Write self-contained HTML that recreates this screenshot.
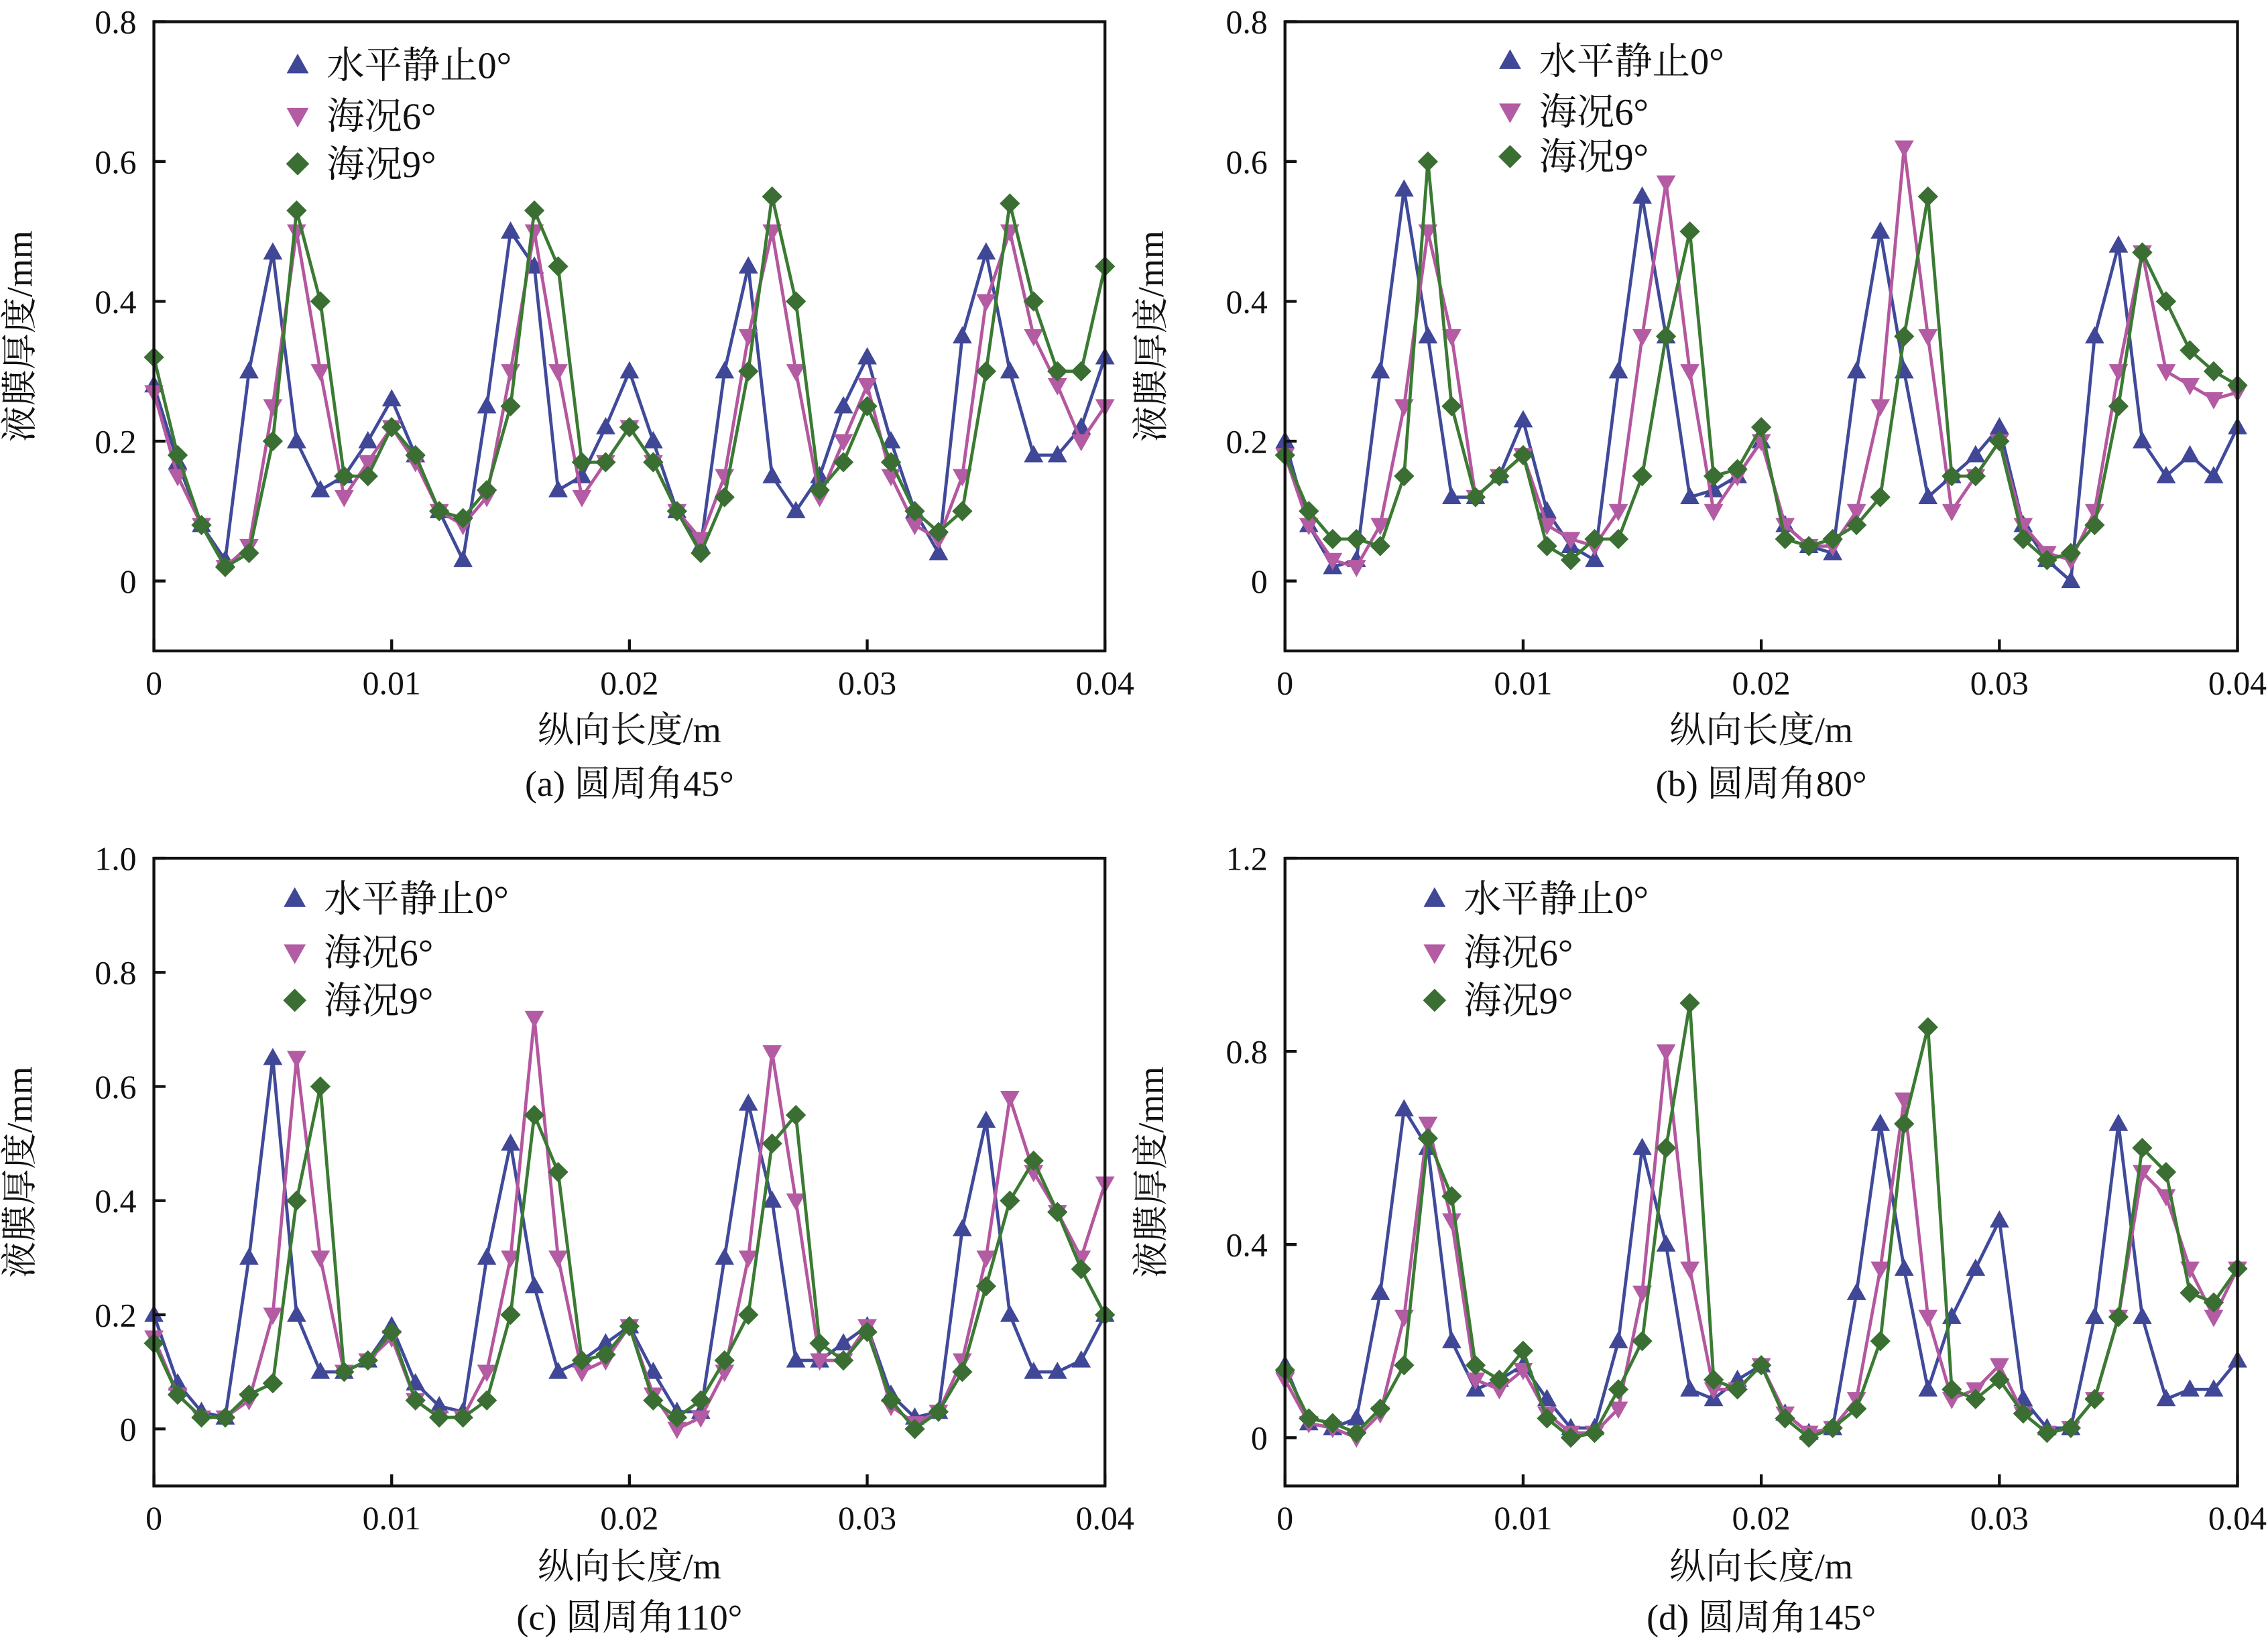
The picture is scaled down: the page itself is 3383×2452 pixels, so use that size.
<!DOCTYPE html>
<html><head><meta charset="utf-8"><style>
html,body{margin:0;padding:0;background:#fff}
svg{display:block}
text{font-family:"Liberation Serif","Noto Serif CJK SC","Noto Sans CJK SC",serif;fill:#111}
</style></head><body>
<svg id="fig" width="3383" height="2452" viewBox="0 0 1562 1134" preserveAspectRatio="none" xmlns="http://www.w3.org/2000/svg"></svg>
<script>
const xValues = [];
for (let i = 0; i <= 40; i++) xValues.push(i * 0.001);
const seriesNames = ["水平静止0°", "海况6°", "海况9°"];
const aBlue = [0.28,0.17,0.08,0.03,0.30,0.47,0.20,0.13,0.15,0.20,0.26,0.18,0.10,0.03,0.25,0.50,0.45,0.13,0.15,0.22,0.30,0.20,0.10,0.05,0.30,0.45,0.15,0.10,0.15,0.25,0.32,0.20,0.10,0.04,0.35,0.47,0.30,0.18,0.18,0.22,0.32];
const aPink = [0.27,0.15,0.08,0.02,0.05,0.25,0.50,0.30,0.12,0.17,0.22,0.17,0.10,0.08,0.12,0.30,0.50,0.30,0.12,0.17,0.22,0.17,0.10,0.06,0.15,0.35,0.50,0.30,0.12,0.20,0.28,0.15,0.08,0.06,0.15,0.40,0.50,0.35,0.28,0.20,0.25];
const aGreen = [0.32,0.18,0.08,0.02,0.04,0.20,0.53,0.40,0.15,0.15,0.22,0.18,0.10,0.09,0.13,0.25,0.53,0.45,0.17,0.17,0.22,0.17,0.10,0.04,0.12,0.30,0.55,0.40,0.13,0.17,0.25,0.17,0.10,0.07,0.10,0.30,0.54,0.40,0.30,0.30,0.45];
const bBlue = [0.20,0.08,0.02,0.03,0.30,0.56,0.35,0.12,0.12,0.15,0.23,0.10,0.05,0.03,0.30,0.55,0.35,0.12,0.13,0.15,0.20,0.08,0.05,0.04,0.30,0.50,0.30,0.12,0.15,0.18,0.22,0.08,0.03,0.00,0.35,0.48,0.20,0.15,0.18,0.15,0.22];
const bPink = [0.18,0.08,0.03,0.02,0.08,0.25,0.50,0.35,0.12,0.15,0.18,0.08,0.06,0.05,0.10,0.35,0.57,0.30,0.10,0.15,0.20,0.08,0.05,0.05,0.10,0.25,0.62,0.35,0.10,0.15,0.20,0.08,0.04,0.03,0.10,0.30,0.47,0.30,0.28,0.26,0.27];
const bGreen = [0.18,0.10,0.06,0.06,0.05,0.15,0.60,0.25,0.12,0.15,0.18,0.05,0.03,0.06,0.06,0.15,0.35,0.50,0.15,0.16,0.22,0.06,0.05,0.06,0.08,0.12,0.35,0.55,0.15,0.15,0.20,0.06,0.03,0.04,0.08,0.25,0.47,0.40,0.33,0.30,0.28];
const cBlue = [0.20,0.08,0.03,0.02,0.30,0.65,0.20,0.10,0.10,0.12,0.18,0.08,0.04,0.03,0.30,0.50,0.25,0.10,0.12,0.15,0.18,0.10,0.03,0.03,0.30,0.57,0.40,0.12,0.12,0.15,0.18,0.06,0.02,0.03,0.35,0.54,0.20,0.10,0.10,0.12,0.20];
const cPink = [0.16,0.06,0.02,0.02,0.05,0.20,0.65,0.30,0.10,0.12,0.16,0.05,0.02,0.02,0.10,0.30,0.72,0.30,0.10,0.12,0.18,0.06,0.00,0.02,0.10,0.30,0.66,0.40,0.12,0.12,0.18,0.04,0.01,0.03,0.12,0.30,0.58,0.45,0.38,0.30,0.43];
const cGreen = [0.15,0.06,0.02,0.02,0.06,0.08,0.40,0.60,0.10,0.12,0.17,0.05,0.02,0.02,0.05,0.20,0.55,0.45,0.12,0.13,0.18,0.05,0.02,0.05,0.12,0.20,0.50,0.55,0.15,0.12,0.17,0.05,0.00,0.03,0.10,0.25,0.40,0.47,0.38,0.28,0.20];
const dBlue = [0.15,0.03,0.02,0.04,0.30,0.68,0.60,0.20,0.10,0.12,0.15,0.08,0.02,0.02,0.20,0.60,0.40,0.10,0.08,0.12,0.15,0.05,0.01,0.02,0.30,0.65,0.35,0.10,0.25,0.35,0.45,0.08,0.02,0.02,0.25,0.65,0.25,0.08,0.10,0.10,0.16];
const dPink = [0.12,0.03,0.02,0.00,0.05,0.25,0.65,0.45,0.12,0.10,0.14,0.05,0.01,0.01,0.06,0.30,0.80,0.35,0.10,0.10,0.15,0.05,0.01,0.02,0.08,0.35,0.70,0.25,0.08,0.10,0.15,0.05,0.01,0.02,0.08,0.25,0.55,0.50,0.35,0.25,0.35];
const dGreen = [0.14,0.04,0.03,0.01,0.06,0.15,0.62,0.50,0.15,0.12,0.18,0.04,0.00,0.01,0.10,0.20,0.60,0.90,0.12,0.10,0.15,0.04,0.00,0.02,0.06,0.20,0.65,0.85,0.10,0.08,0.12,0.05,0.01,0.02,0.08,0.25,0.60,0.55,0.30,0.28,0.35];
const xTicks = [0, 0.01, 0.02, 0.03, 0.04];
const xTickLabels = ["0", "0.01", "0.02", "0.03", "0.04"];

const panels = [
 {id:"a", x0:106, x1:761, top:15, bot:449, ymin:-0.1, ymax:0.8, yTicks:[0,0.2,0.4,0.6,0.8], yLab:["0","0.2","0.4","0.6","0.8"], data:[aBlue,aPink,aGreen], cap:"(a) 圆周角45°", lx:205, ly:[45,80,113], capY:540, titY:503},
 {id:"b", x0:885, x1:1541, top:15, bot:449, ymin:-0.1, ymax:0.8, yTicks:[0,0.2,0.4,0.6,0.8], yLab:["0","0.2","0.4","0.6","0.8"], data:[bBlue,bPink,bGreen], cap:"(b) 圆周角80°", lx:1040, ly:[42,77,108], capY:540, titY:503},
 {id:"c", x0:106, x1:761, top:592, bot:1025, ymin:-0.1, ymax:1.0, yTicks:[0,0.2,0.4,0.6,0.8,1.0], yLab:["0","0.2","0.4","0.6","0.8","1.0"], data:[cBlue,cPink,cGreen], cap:"(c) 圆周角110°", lx:203, ly:[620,657,690], capY:1115, titY:1080},
 {id:"d", x0:885, x1:1541, top:592, bot:1025, ymin:-0.1, ymax:1.2, yTicks:[0,0.4,0.8,1.2], yLab:["0","0.4","0.8","1.2"], data:[dBlue,dPink,dGreen], cap:"(d) 圆周角145°", lx:988, ly:[620,657,690], capY:1115, titY:1080}
];
const lineColors = ["#404a9a", "#b4579f", "#3b7a33"];
const markColors = ["#3f4796", "#b35ba3", "#3a6e32"];
const NS = "http://www.w3.org/2000/svg";
const svg = document.getElementById("fig");
function mk(tag, attrs, parent){const e=document.createElementNS(NS,tag);for(const k in attrs)e.setAttribute(k,attrs[k]);(parent||svg).appendChild(e);return e;}
function marker(kind, cx, cy, s, col, g){
  let pts;
  if(kind===0) pts=[[cx,cy-s],[cx+s*0.95,cy+s*0.7],[cx-s*0.95,cy+s*0.7]];
  else if(kind===1) pts=[[cx,cy+s],[cx+s*0.95,cy-s*0.7],[cx-s*0.95,cy-s*0.7]];
  else pts=[[cx,cy-s],[cx+s,cy],[cx,cy+s],[cx-s,cy]];
  return mk("polygon",{points:pts.map(p=>p.join(",")).join(" "),fill:col},g);
}
panels.forEach(p=>{
  const g = mk("g",{});
  
  
  const sx = v => p.x0 + (v-0)/(0.04)*(p.x1-p.x0);
  const sy = v => p.bot - (v-p.ymin)/(p.ymax-p.ymin)*(p.bot-p.top);
  p.data.forEach((arr, si)=>{
    const sg = mk("g",{},g);
    
    
    const pts = arr.map((v,i)=>sx(xValues[i])+","+sy(v)).join(" ");
    mk("polyline",{points:pts,fill:"none",stroke:lineColors[si],"stroke-width":2.2},sg);
    arr.forEach((v,i)=>{
      const m = marker(si, sx(xValues[i]), sy(v), 7, markColors[si], sg);
      
      
    });
  });
  const fr = mk("rect",{x:p.x0,y:p.top,width:p.x1-p.x0,height:p.bot-p.top,fill:"none",stroke:"#111","stroke-width":2},g);
  
  
  p.yTicks.forEach((t,i)=>{
    mk("line",{x1:p.x0,x2:p.x0+8,y1:sy(t),y2:sy(t),stroke:"#111","stroke-width":2},g);
    const tx = mk("text",{x:p.x0-12,y:sy(t)+8,"text-anchor":"end","font-size":23},g);
    tx.textContent = p.yLab[i];
    
    
  });
  xTicks.forEach((t,i)=>{
    mk("line",{x1:sx(t),x2:sx(t),y1:p.bot,y2:p.bot-8,stroke:"#111","stroke-width":2},g);
    const tx = mk("text",{x:sx(t),y:p.bot+30,"text-anchor":"middle","font-size":23},g);
    tx.textContent = xTickLabels[i];
    
    
  });
  const yc = (p.top+p.bot)/2, ytx = p.x0-84;
  const yt = mk("text",{x:ytx,y:yc,"text-anchor":"middle","font-size":25,transform:`rotate(-90 ${ytx} ${yc})`},g);
  yt.textContent = "液膜厚度/mm";
  
  
  const xc = (p.x0+p.x1)/2;
  const xt = mk("text",{x:xc,y:p.titY+9,"text-anchor":"middle","font-size":25},g);
  xt.textContent = "纵向长度/m";
  
  
  const ct = mk("text",{x:xc,y:p.capY+9,"text-anchor":"middle","font-size":25},g);
  ct.textContent = p.cap;
  
  
  seriesNames.forEach((n,si)=>{
    const lg = mk("g",{},g);
    
    
    marker(si, p.lx, p.ly[si], 8, markColors[si], lg);
    const t = mk("text",{x:p.lx+20,y:p.ly[si]+9,"font-size":26},lg);
    t.textContent = n;
  });
});
</script>
</body></html>
